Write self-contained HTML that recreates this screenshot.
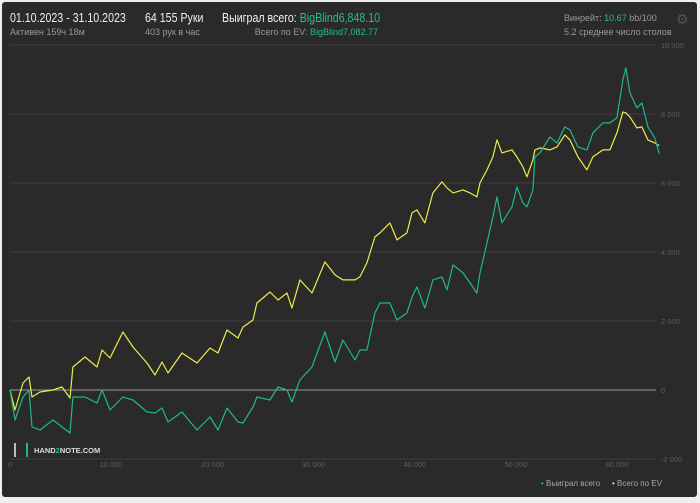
<!DOCTYPE html>
<html><head><meta charset="utf-8"><style>
body{margin:0;width:700px;height:503px;background:#efefef;font-family:"Liberation Sans","Noto Sans CJK SC",sans-serif;overflow:hidden}
#panel{position:absolute;left:2px;top:2px;width:695px;height:495px;background:#2a2a2a;border-radius:3px}
.t{position:absolute;white-space:nowrap}
.big{font-size:12.5px;transform:scaleX(0.85);transform-origin:left top}
</style></head><body>
<div id="panel"></div>
<div class="t big" style="left:10px;top:11px;color:#f0f0f0">01.10.2023 - 31.10.2023</div>
<div class="t" style="left:10px;top:27px;color:#999;font-size:9px">Активен 159ч 18м</div>
<div class="t big" style="left:145px;top:11px;color:#f0f0f0">64 155 Руки</div>
<div class="t" style="left:145px;top:27px;color:#999;font-size:9px">403 рук в час</div>
<div class="t big" style="left:222px;top:11px;color:#f0f0f0">Выиграл всего: <span style="color:#1fbf87">BigBlind6,848.10</span></div>
<div class="t" style="right:322px;top:27px;color:#999;font-size:9px">Всего по EV: <span style="color:#1fbf87">BigBlind7,082.77</span></div>
<div class="t" style="left:564px;top:13px;color:#999;font-size:9px">Винрейт: <span style="color:#1fbf87">10.67</span> bb/100</div>
<div class="t" style="left:564px;top:27px;color:#999;font-size:9px">5.2 среднее число столов</div>
<div class="t" style="left:676px;top:11px;color:#555;font-size:14px">⚙</div>
<svg id="chart" width="700" height="503" style="position:absolute;left:0;top:0"></svg>
<script>
const hands=[0,490,1280,1880,2170,2960,4250,5140,5930,6220,7410,8600,9090,9880,11160,12150,13540,14330,15020,15610,17000,18480,19760,20550,21440,22530,23020,24010,24400,25690,26480,27370,27860,28650,29840,31120,32110,32900,34090,34580,35270,36060,36560,37540,38240,39220,39720,40210,41000,41790,42680,43180,43770,44760,45450,46140,46440,47130,47720,48120,48610,49600,50090,50680,51080,51670,51870,52360,53350,54040,54830,55330,56120,57010,57600,58590,59280,59970,60560,60860,61250,61950,62440,63030,63720,64155];
const evValues=[0,-580,203,377,-203,-58,0,87,-232,667,957,667,1160,928,1682,1247,783,435,812,493,1073,783,1218,1073,1740,1508,1827,2030,2523,2842,2610,2813,2378,3190,2813,3712,3335,3190,3190,3277,3683,4437,4553,4843,4350,4553,5133,5220,4843,5713,6032,5858,5713,5800,5713,5597,6003,6380,6757,7250,6873,6960,6757,6467,6177,6670,6960,7018,6960,7047,7395,7250,6757,6380,6757,6960,6960,7453,8062,8033,7917,7598,7627,7250,7163,7083];
const wonValues=[0,-870,-203,0,-1073,-1160,-870,-1073,-1247,-203,-203,-377,0,-580,-203,-290,-638,-667,-522,-928,-638,-1160,-783,-1160,-522,-928,-957,-493,-203,-290,87,0,-348,290,667,1682,812,1450,870,1160,1160,2233,2523,2523,2030,2233,2697,2987,2378,3190,3277,2900,3625,3393,3103,2813,3393,4263,5017,5597,4843,5307,5887,5423,5307,5800,6757,6873,7337,7163,7627,7540,7047,6960,7453,7743,7743,7888,8990,9338,8613,8178,8323,7627,7308,6848];
const yTicks=[-2000,0,2000,4000,6000,8000,10000];
const yTickLabels=["-2 000","0","2 000","4 000","6 000","8 000","10 000"];
const xTicks=[0,10000,20000,30000,40000,50000,60000];
const xTickLabels=["0","10 000","20 000","30 000","40 000","50 000","60 000"];
const NS="http://www.w3.org/2000/svg";
const svg=document.getElementById('chart');
const X=h=>10+h*0.01012;
const Y=v=>390-v*0.0345;
function mk(tag,attrs){const e=document.createElementNS(NS,tag);for(const k in attrs)e.setAttribute(k,attrs[k]);svg.appendChild(e);return e;}
yTicks.forEach((v,i)=>{
  const l=mk('line',{x1:10,x2:656,y1:Y(v),y2:Y(v),stroke:v===0?'#9a9a9a':'#3e3e3e','stroke-width':1});
  
  
  const t=mk('text',{x:661,y:Y(v)+3,fill:'#5e5e5e','font-size':7.5,'font-family':'Liberation Sans'});
  t.textContent=yTickLabels[i];
  
  
});
xTicks.forEach((h,i)=>{
  const t=mk('text',{x:X(h),y:467,fill:'#5e5e5e','font-size':7.5,'text-anchor':'middle','font-family':'Liberation Sans'});
  t.textContent=xTickLabels[i];
  
  
});
function series(vals,color,name){
  const d=vals.map((v,i)=>(i?'L':'M')+X(hands[i]).toFixed(1)+' '+Y(v).toFixed(1)).join(' ');
  const p=mk('path',{d:d,fill:'none',stroke:color,'stroke-width':1.2,'stroke-linejoin':'round'});
  
  
}
series(evValues,'#ecec4a','ev-line');
series(wonValues,'#1fb887','won-line');
</script>
<div class="t" style="left:14px;top:443px;width:10px;height:14px;border-left:2px solid #bbb;border-right:2px solid #1fb887;"></div>
<div class="t" style="left:34px;top:446px;color:#ddd;font-size:7.5px;font-weight:bold">HAND<span style="color:#1fb887">2</span>NOTE.COM</div>
<div class="t" style="left:541px;top:479px;color:#aaa;font-size:8px"><span style="color:#1fb887">•</span> Выиграл всего</div>
<div class="t" style="left:612px;top:479px;color:#aaa;font-size:8px"><span style="color:#ecec4a">•</span> Всего по EV</div>
</body></html>
